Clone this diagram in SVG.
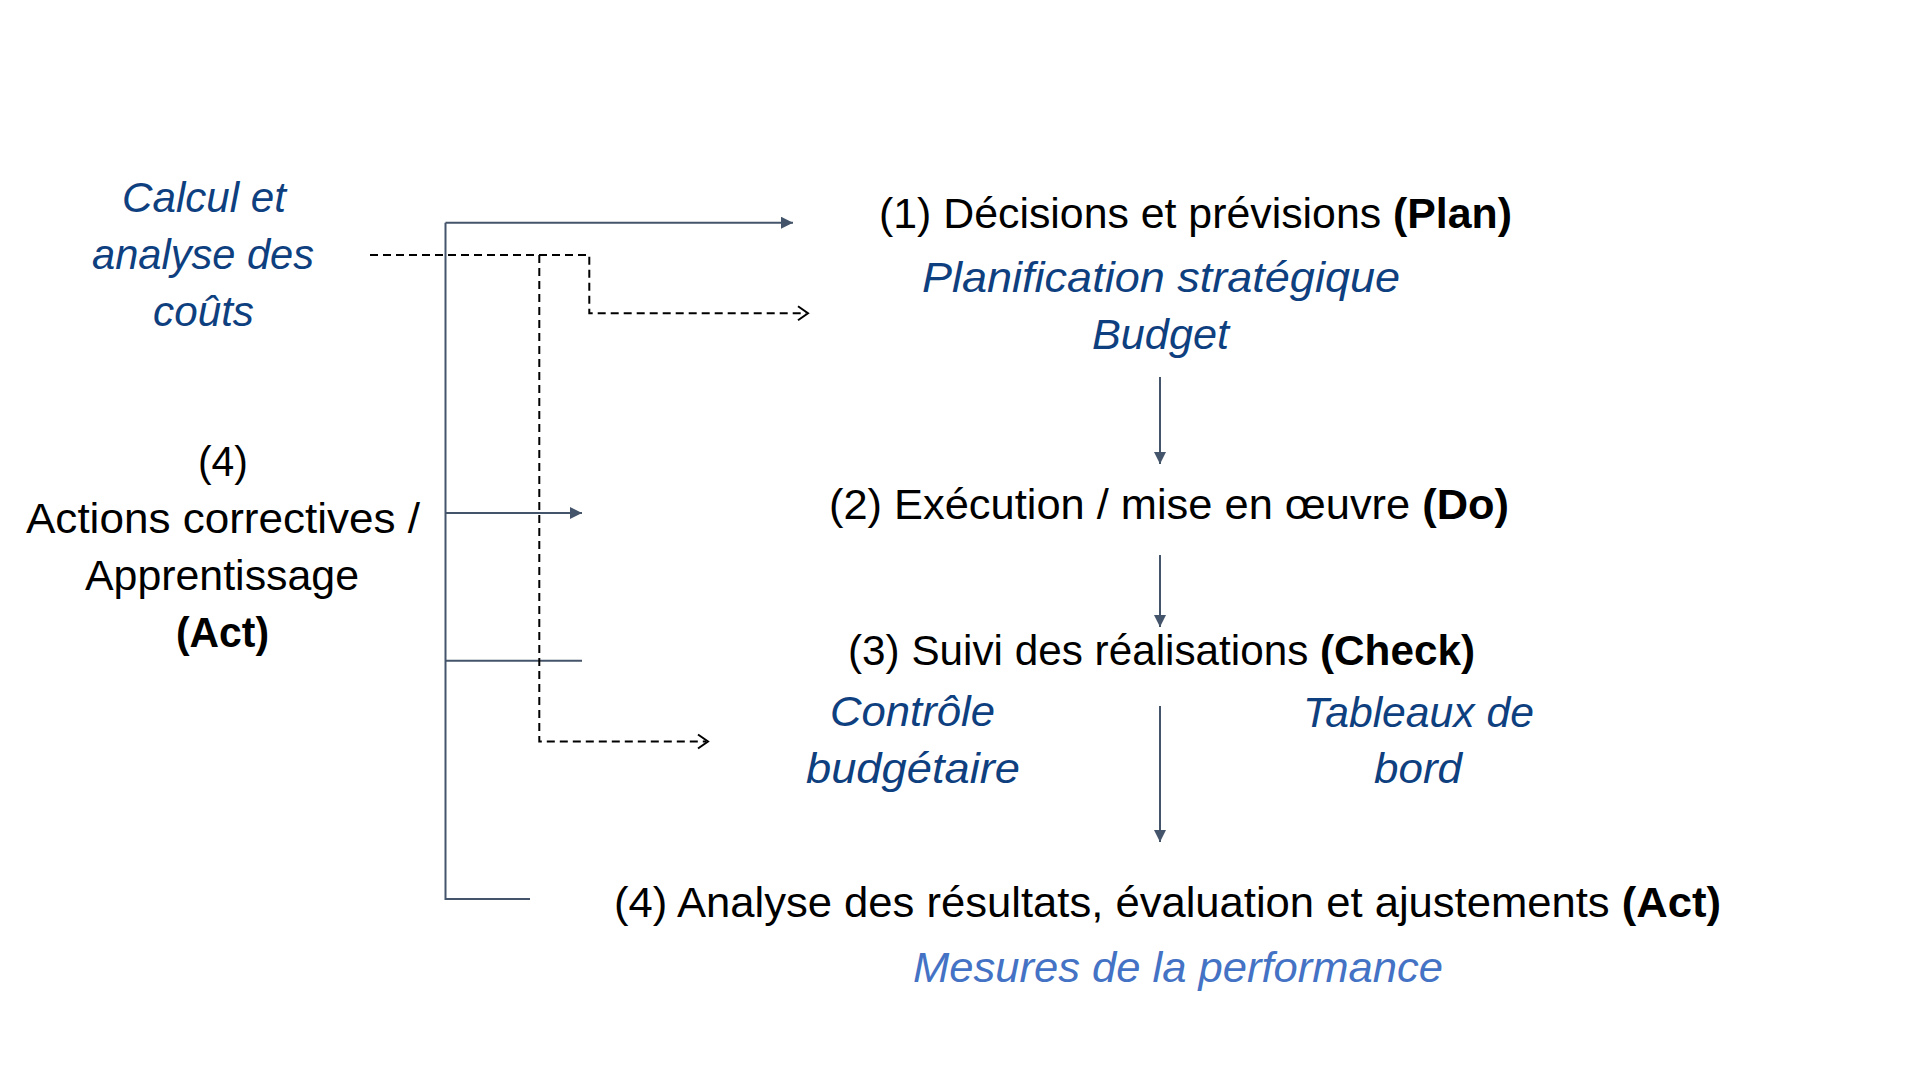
<svg xmlns="http://www.w3.org/2000/svg" width="1920" height="1080" viewBox="0 0 1920 1080">
<style>
.t{font-family:"Liberation Sans",Arial,sans-serif;font-size:42px;fill:#000}
.b{font-weight:bold}
.i{font-family:"Liberation Sans",Arial,sans-serif;font-size:42px;font-style:italic;fill:#0E407F}
.il{fill:#4472C4}
.s{fill:none;stroke:#44546A;stroke-width:2}
.d{fill:none;stroke:#000;stroke-width:2;stroke-dasharray:8 5}
.c{fill:none;stroke:#000;stroke-width:2;stroke-linejoin:miter}
</style>
<defs>
<marker id="ah" markerUnits="userSpaceOnUse" markerWidth="14" markerHeight="14" refX="12" refY="6" orient="auto">
<path d="M0,0 L12,6 L0,12 z" fill="#44546A"/>
</marker>
</defs>
<rect width="1920" height="1080" fill="#fff"/>

<g id="connectors">
<path class="s" d="M445.5,222.7 H793" marker-end="url(#ah)"/>
<path class="s" d="M445.5,222.7 V899 H530"/>
<path class="s" d="M445.5,513 H582" marker-end="url(#ah)"/>
<path class="s" d="M445.5,660.7 H582"/>
<path class="s" d="M1160,377 V464" marker-end="url(#ah)"/>
<path class="s" d="M1160,555 V627" marker-end="url(#ah)"/>
<path class="s" d="M1160,706 V842" marker-end="url(#ah)"/>
<path class="d" d="M370,255 H589.3 V313.3 H806"/>
<path class="c" d="M798,306.3 L808,313.3 L798,320.3"/>
<path class="d" d="M539.3,255 V741.5 H706"/>
<path class="c" d="M698,734.5 L708,741.5 L698,748.5"/>
</g>

<g id="costs">
<text class="i" x="122" y="212" textLength="164" lengthAdjust="spacingAndGlyphs">Calcul et</text>
<text class="i" x="92" y="269" textLength="222" lengthAdjust="spacingAndGlyphs">analyse des</text>
<text class="i" x="153" y="326" textLength="101" lengthAdjust="spacingAndGlyphs">coûts</text>
</g>

<g id="act-left">
<text class="t" x="198" y="476" textLength="50" lengthAdjust="spacingAndGlyphs">(4)</text>
<text class="t" x="26" y="533" textLength="394" lengthAdjust="spacingAndGlyphs">Actions correctives /</text>
<text class="t" x="85" y="590" textLength="274" lengthAdjust="spacingAndGlyphs">Apprentissage</text>
<text class="t b" x="176" y="647" textLength="93" lengthAdjust="spacingAndGlyphs">(Act)</text>
</g>

<g id="plan">
<text class="t" x="879" y="228" textLength="633" lengthAdjust="spacingAndGlyphs">(1) Décisions et prévisions <tspan class="b">(Plan)</tspan></text>
<text class="i" x="922" y="292" textLength="478" lengthAdjust="spacingAndGlyphs">Planification stratégique</text>
<text class="i" x="1092" y="349" textLength="137" lengthAdjust="spacingAndGlyphs">Budget</text>
</g>

<g id="do">
<text class="t" x="829" y="519" textLength="680" lengthAdjust="spacingAndGlyphs">(2) Exécution / mise en œuvre <tspan class="b">(Do)</tspan></text>
</g>

<g id="check">
<text class="t" x="848" y="665" textLength="627" lengthAdjust="spacingAndGlyphs">(3) Suivi des réalisations <tspan class="b">(Check)</tspan></text>
<text class="i" x="830" y="726" textLength="165" lengthAdjust="spacingAndGlyphs">Contrôle</text>
<text class="i" x="806" y="783" textLength="214" lengthAdjust="spacingAndGlyphs">budgétaire</text>
<text class="i" x="1303" y="727" textLength="231" lengthAdjust="spacingAndGlyphs">Tableaux de</text>
<text class="i" x="1374" y="783" textLength="88" lengthAdjust="spacingAndGlyphs">bord</text>
</g>

<g id="act">
<text class="t" x="614" y="917" textLength="1107" lengthAdjust="spacingAndGlyphs">(4) Analyse des résultats, évaluation et ajustements <tspan class="b">(Act)</tspan></text>
<text class="i il" x="913" y="982" textLength="530" lengthAdjust="spacingAndGlyphs">Mesures de la performance</text>
</g>
</svg>
